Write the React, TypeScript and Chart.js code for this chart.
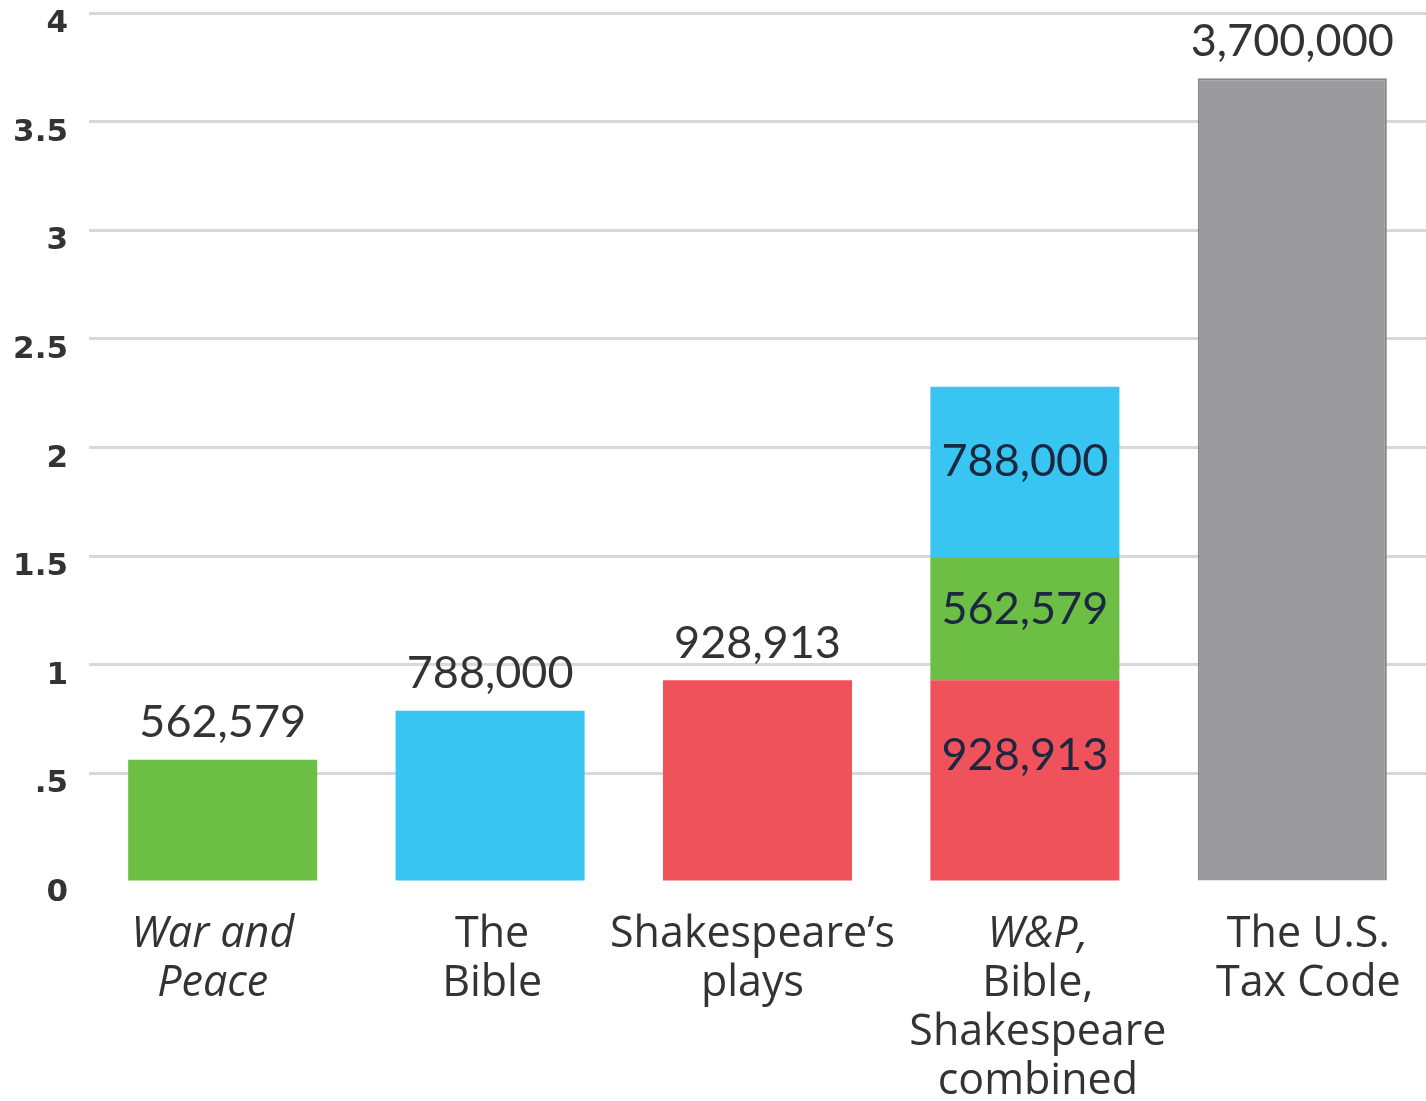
import React, { useEffect, useRef } from "react";
import { Chart, registerables } from "chart.js";

Chart.register(...registerables);

const categories: string[][] = [
  ["War and", "Peace"],
  ["The", "Bible"],
  ["Shakespeare\u2019s", "plays"],
  ["W&P,", "Bible,", "Shakespeare", "combined"],
  ["The U.S.", "Tax Code"],
];
const italicLines: number[][] = [[0, 1], [], [], [0], []];

const shakespeareWords = [null, null, 928913, 928913, null];
const warAndPeaceWords = [562579, null, null, 562579, null];
const bibleWords = [null, 788000, null, 788000, null];
const taxCodeWords = [null, null, null, null, 3700000];

const yTickLabels: Record<number, string> = {
  0: "0",
  500000: ".5",
  1000000: "1",
  1500000: "1.5",
  2000000: "2",
  2500000: "2.5",
  3000000: "3",
  3500000: "3.5",
  4000000: "4",
};

const VALUE_FONT = "45px Lato, 'Open Sans', sans-serif";
const CAT_FONT = "43px 'Open Sans', Lato, sans-serif";
const CAT_FONT_ITALIC = "italic 43px 'Open Sans', Lato, sans-serif";

const labelsPlugin = {
  id: "customLabels",
  afterDatasetsDraw(chart: any, _args: any, opts: any) {
    const ctx = chart.ctx;
    const n = chart.data.labels.length;
    const dx: number[] = (opts && opts.labelDx) || [];
    ctx.save();
    ctx.textAlign = "center";
    ctx.textBaseline = "middle";
    for (let i = 0; i < n; i++) {
      const present = chart.data.datasets
        .map((ds: any, di: number) => ({ ds, di }))
        .filter((o: any) => o.ds.data[i] != null);
      const stacked = present.length > 1;
      for (const { ds, di } of present) {
        const el = chart.getDatasetMeta(di).data[i];
        if (!el) continue;
        const v = ds.data[i] as number;
        const txt = v.toLocaleString("en-US");
        ctx.font = VALUE_FONT;
        if (stacked) {
          const segH = el.base - el.y;
          const off = Math.min(75, segH / 2 - 10);
          ctx.fillStyle = "#1c2740";
          ctx.fillText(txt, el.x, el.y + off);
        } else {
          ctx.fillStyle = "#333333";
          ctx.fillText(txt, el.x, el.y - 37);
        }
      }
    }
    const xScale = chart.scales.x;
    const bottom = chart.chartArea.bottom;
    for (let i = 0; i < n; i++) {
      const x = xScale.getPixelForValue(i) + (dx[i] || 0);
      categories[i].forEach((line, li) => {
        ctx.font = italicLines[i].includes(li) ? CAT_FONT_ITALIC : CAT_FONT;
        ctx.fillStyle = "#333333";
        ctx.fillText(line, x, bottom + 53 + li * 49);
      });
    }
    ctx.restore();
  },
};

export default function App() {
  const ref = useRef<HTMLCanvasElement | null>(null);
  useEffect(() => {
    if (!ref.current) return;
    const chart = new Chart(ref.current, {
      type: "bar",
      data: {
        labels: categories.map((c) => c.join(" ")),
        datasets: [
          { label: "Shakespeare", data: shakespeareWords as any, backgroundColor: "#EF525B" },
          { label: "War and Peace", data: warAndPeaceWords as any, backgroundColor: "#6CBE45" },
          { label: "Bible", data: bibleWords as any, backgroundColor: "#38C5F2" },
          {
            label: "Tax Code",
            data: taxCodeWords as any,
            backgroundColor: "#9B9B9E",
            borderColor: "#86868a",
            borderWidth: 2,
          },
        ],
      },
      options: {
        responsive: false,
        animation: false,
        layout: { padding: { top: 13, bottom: 211, right: 0, left: 0 } },
        plugins: {
          legend: { display: false },
          tooltip: { enabled: false },
          customLabels: { labelDx: [-10, 2, -5, 13, 16] },
        } as any,
        datasets: { bar: { categoryPercentage: 1, barPercentage: 0.707, skipNull: false } },
        scales: {
          x: {
            stacked: true,
            grid: { display: false },
            border: { display: false },
            ticks: { display: false },
          },
          y: {
            stacked: true,
            min: 0,
            max: 4000000,
            border: { display: false },
            afterFit: (scale: any) => {
              scale.width = 89;
              scale.paddingTop = 0;
              scale.paddingBottom = 0;
            },
            grid: {
              drawTicks: false,
              lineWidth: 3,
              color: (c: any) => (c.tick && c.tick.value === 0 ? "rgba(0,0,0,0)" : "#d8d8d8"),
            },
            ticks: {
              stepSize: 500000,
              padding: 21,
              labelOffset: 11,
              color: "#333333",
              font: { family: "'DejaVu Sans', sans-serif", weight: "bold", size: 31 },
              callback: (v: any) => yTickLabels[v as number] ?? "",
            },
          },
        },
      },
      plugins: [labelsPlugin],
    });
    return () => chart.destroy();
  }, []);
  return (
    <div style={{ position: "absolute", left: 0, top: 0, width: 1426, height: 1101, background: "#fff" }}>
      <canvas ref={ref} width={1426} height={1101} style={{ display: "block" }} />
    </div>
  );
}
